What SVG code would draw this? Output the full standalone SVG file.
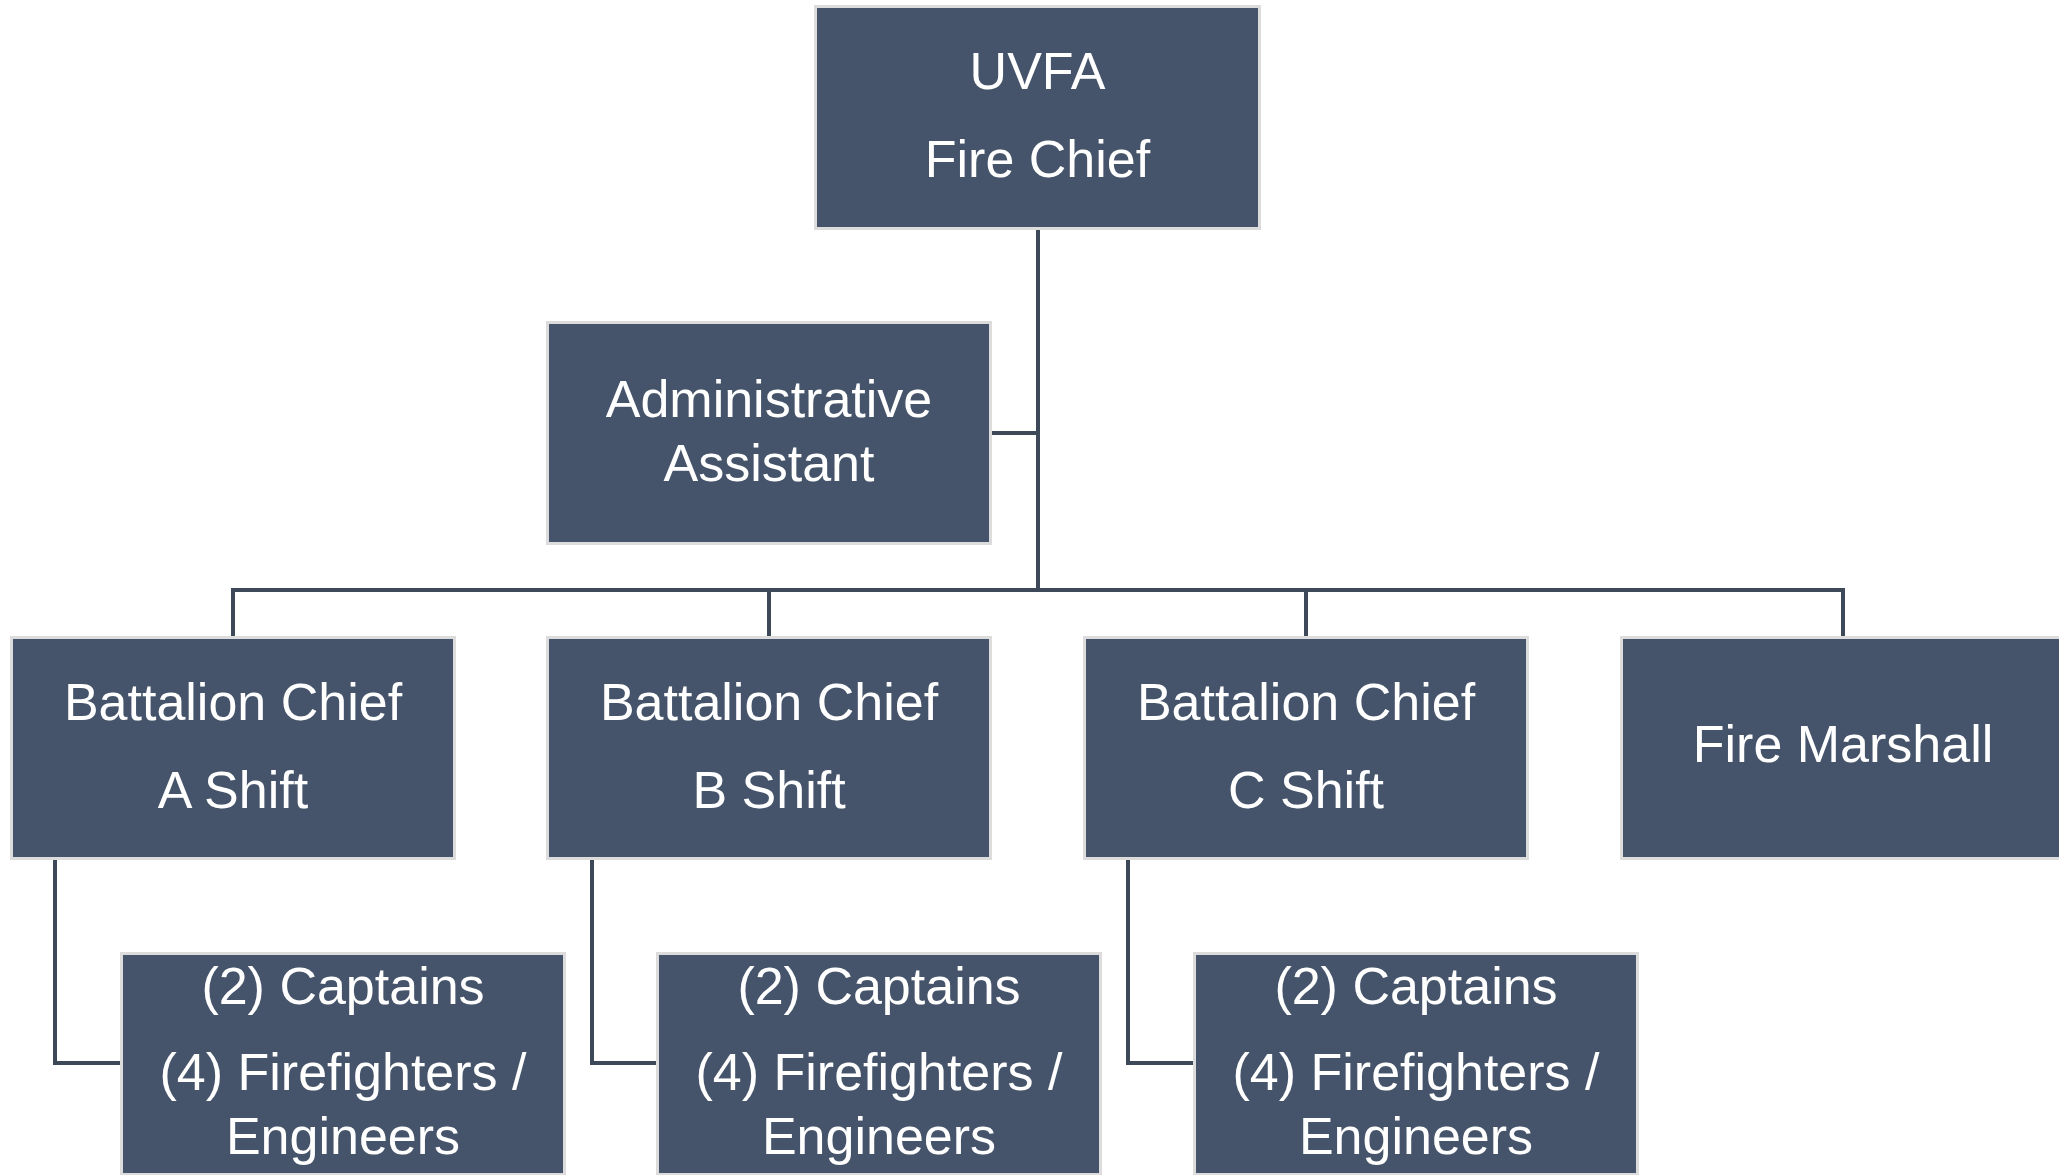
<svg xmlns="http://www.w3.org/2000/svg" width="2059" height="1175" viewBox="0 0 2059 1175">
<style>
.box{fill:#45546a;stroke:#dcdcdc;stroke-width:3}
.t{font-family:"Liberation Sans",Arial,sans-serif;font-size:52px;fill:#ffffff;text-anchor:middle}
.ln{fill:none;stroke:#3d4859;stroke-width:4}
</style>
<rect width="2059" height="1175" fill="#ffffff"/>
<g id="connectors">
<path class="ln" d="M1038 230 V590"/>
<path class="ln" d="M991 433 H1038"/>
<path class="ln" d="M233 637 V590 H1843 V637"/>
<path class="ln" d="M769 590 V637"/>
<path class="ln" d="M1306 590 V637"/>
<path class="ln" d="M55 859 V1063 H122"/>
<path class="ln" d="M592 859 V1063 H658"/>
<path class="ln" d="M1128 859 V1063 H1195"/>
</g>
<g id="fire-chief">
<rect class="box" x="815.5" y="6.5" width="444" height="222"/>
<text class="t" x="1037.5" y="89">UVFA</text>
<text class="t" x="1037.5" y="177">Fire Chief</text>
</g>
<g id="admin-assistant">
<rect class="box" x="547.5" y="322.5" width="443" height="221"/>
<text class="t" x="769" y="417">Administrative</text>
<text class="t" x="769" y="481">Assistant</text>
</g>
<g id="bc-a">
<rect class="box" x="11.5" y="637.5" width="443" height="221"/>
<text class="t" x="233" y="720">Battalion Chief</text>
<text class="t" x="233" y="808">A Shift</text>
</g>
<g id="bc-b">
<rect class="box" x="547.5" y="637.5" width="443" height="221"/>
<text class="t" x="769" y="720">Battalion Chief</text>
<text class="t" x="769" y="808">B Shift</text>
</g>
<g id="bc-c">
<rect class="box" x="1084.5" y="637.5" width="443" height="221"/>
<text class="t" x="1306" y="720">Battalion Chief</text>
<text class="t" x="1306" y="808">C Shift</text>
</g>
<g id="fire-marshall">
<rect class="box" x="1621.5" y="637.5" width="443" height="221"/>
<text class="t" x="1843" y="762">Fire Marshall</text>
</g>
<g id="crew-a">
<rect class="box" x="121.5" y="953.5" width="443" height="221"/>
<text class="t" x="343" y="1004">(2) Captains</text>
<text class="t" x="343" y="1090">(4) Firefighters /</text>
<text class="t" x="343" y="1154">Engineers</text>
</g>
<g id="crew-b">
<rect class="box" x="657.5" y="953.5" width="443" height="221"/>
<text class="t" x="879" y="1004">(2) Captains</text>
<text class="t" x="879" y="1090">(4) Firefighters /</text>
<text class="t" x="879" y="1154">Engineers</text>
</g>
<g id="crew-c">
<rect class="box" x="1194.5" y="953.5" width="443" height="221"/>
<text class="t" x="1416" y="1004">(2) Captains</text>
<text class="t" x="1416" y="1090">(4) Firefighters /</text>
<text class="t" x="1416" y="1154">Engineers</text>
</g>
</svg>
